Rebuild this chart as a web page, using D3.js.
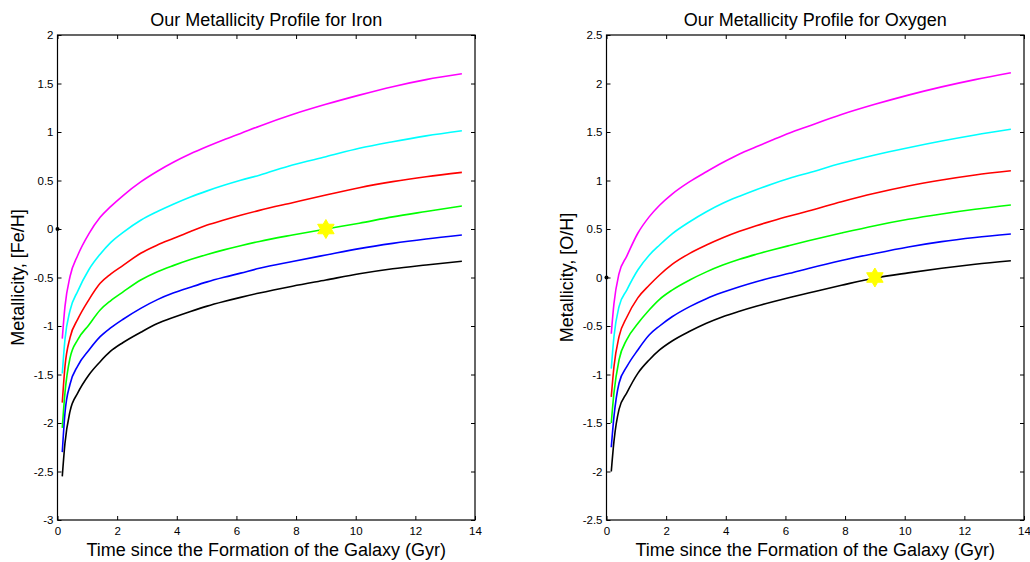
<!DOCTYPE html>
<html>
<head>
<meta charset="utf-8">
<script src="https://cdn.jsdelivr.net/npm/d3@7"></script>
<style>
  html, body { margin: 0; padding: 0; background: #fff; }
  svg { display: block; }
  text { font-family: "Liberation Sans", Arial, Helvetica, sans-serif; fill: #000; }
</style>
</head>
<body>
<svg id="chart" width="1030" height="562"></svg>
<script>
// ---------------- DATA ----------------
const timeGyr = [0.16, 0.25, 0.42, 0.68, 1.05, 1.43, 1.78, 2.2, 2.79, 3.35, 3.9, 4.46, 5.02, 5.58, 6.14, 6.77, 7.88, 9.0, 10.12, 11.24, 12.36, 13.56];

// Iron panel, [Fe/H]
const fe_magenta = [-1.13, -0.80, -0.49, -0.27, -0.05, 0.12, 0.23, 0.345, 0.485, 0.595, 0.69, 0.775, 0.85, 0.92, 0.985, 1.06, 1.18, 1.285, 1.38, 1.467, 1.54, 1.60];
const fe_cyan    = [-1.49, -1.14, -0.84, -0.64, -0.42, -0.26, -0.14, -0.035, 0.09, 0.18, 0.258, 0.33, 0.393, 0.45, 0.502, 0.555, 0.66, 0.745, 0.832, 0.90, 0.96, 1.013];
const fe_red     = [-1.79, -1.42, -1.12, -0.93, -0.73, -0.56, -0.465, -0.375, -0.25, -0.165, -0.096, -0.025, 0.041, 0.093, 0.142, 0.192, 0.271, 0.35, 0.426, 0.488, 0.539, 0.584];
const fe_green   = [-2.05, -1.69, -1.33, -1.14, -0.99, -0.835, -0.74, -0.648, -0.526, -0.44, -0.375, -0.315, -0.262, -0.215, -0.172, -0.128, -0.062, 0.0, 0.06, 0.125, 0.18, 0.237];
const fe_blue    = [-2.30, -1.90, -1.60, -1.41, -1.25, -1.11, -1.02, -0.93, -0.818, -0.728, -0.658, -0.6, -0.545, -0.498, -0.455, -0.405, -0.335, -0.268, -0.202, -0.148, -0.103, -0.062];
const fe_black   = [-2.55, -2.21, -1.88, -1.69, -1.505, -1.368, -1.26, -1.17, -1.065, -0.975, -0.91, -0.85, -0.795, -0.748, -0.705, -0.66, -0.59, -0.526, -0.462, -0.41, -0.371, -0.333];

// Oxygen panel, [O/H]
const o_magenta = [-0.58, -0.27, 0.04, 0.22, 0.456, 0.625, 0.745, 0.86, 0.988, 1.09, 1.185, 1.273, 1.347, 1.42, 1.49, 1.56, 1.68, 1.785, 1.88, 1.965, 2.04, 2.111];
const o_cyan    = [-0.94, -0.61, -0.30, -0.13, 0.077, 0.23, 0.335, 0.45, 0.575, 0.678, 0.765, 0.838, 0.905, 0.967, 1.023, 1.078, 1.177, 1.263, 1.338, 1.407, 1.469, 1.528];
const o_red     = [-1.23, -0.92, -0.61, -0.41, -0.21, -0.08, 0.026, 0.135, 0.249, 0.335, 0.41, 0.477, 0.534, 0.586, 0.634, 0.685, 0.781, 0.868, 0.943, 1.005, 1.057, 1.10];
const o_green   = [-1.50, -1.19, -0.85, -0.64, -0.475, -0.335, -0.225, -0.13, -0.026, 0.058, 0.128, 0.188, 0.239, 0.286, 0.33, 0.378, 0.458, 0.534, 0.60, 0.655, 0.703, 0.747];
const o_blue    = [-1.75, -1.435, -1.09, -0.92, -0.747, -0.593, -0.50, -0.405, -0.30, -0.218, -0.153, -0.095, -0.043, 0.002, 0.043, 0.093, 0.175, 0.248, 0.315, 0.37, 0.412, 0.448];
const o_black   = [-2.0, -1.69, -1.36, -1.19, -0.988, -0.85, -0.747, -0.655, -0.555, -0.472, -0.404, -0.348, -0.297, -0.25, -0.206, -0.16, -0.08, -0.005, 0.048, 0.095, 0.136, 0.173];

// Sun markers (time, metallicity)
const fe_sun = [9, 0];
const o_sun  = [9, 0];
const origin = [0, 0];

// Tick labels
const xTicks  = [0, 2, 4, 6, 8, 10, 12, 14];
const feTicks = [2, 1.5, 1, 0.5, 0, -0.5, -1, -1.5, -2, -2.5, -3];
const oTicks  = [2.5, 2, 1.5, 1, 0.5, 0, -0.5, -1, -1.5, -2, -2.5];

const titles = ["Our Metallicity Profile for Iron", "Our Metallicity Profile for Oxygen"];
const yLabels = ["Metallicity, [Fe/H]", "Metallicity, [O/H]"];
const xLabel = "Time since the Formation of the Galaxy (Gyr)";

// ---------------- STYLE ----------------
const lineColors = ["#ff00ff", "#00ffff", "#ff0000", "#00ff00", "#0000ff", "#000000"];

const svg = d3.select("#chart");

function hexagramPath(R) {
  const p = d3.path();
  for (let k = 0; k < 12; k++) {
    const a = (-90 + k * 30) * Math.PI / 180;
    const r = k % 2 === 0 ? R : R / Math.sqrt(3);
    const px = r * Math.cos(a), py = r * Math.sin(a);
    if (k === 0) p.moveTo(px, py); else p.lineTo(px, py);
  }
  p.closePath();
  return p.toString();
}

function drawPanel(cfg) {
  const x = d3.scaleLinear().domain([0, 14]).range([cfg.left, cfg.right]);
  const y = d3.scaleLinear().domain(cfg.yDomain).range([cfg.bottom, cfg.top]);
  const g = svg.append("g");

  // series
  const line = d3.line()
    .x((d, i) => x(timeGyr[i]))
    .y(d => y(d))
    .curve(d3.curveMonotoneX);
  cfg.series.forEach((s, i) => {
    g.append("path")
      .attr("d", line(s))
      .attr("fill", "none")
      .attr("stroke", lineColors[i])
      .attr("stroke-width", 1.6)
      .attr("stroke-linejoin", "round");
  });

  // axes with inward ticks
  const fmt = d => String(d);
  const ax = [
    g.append("g").attr("transform", `translate(0,${cfg.bottom})`)
      .call(d3.axisBottom(x).tickValues(xTicks).tickFormat(fmt).tickSizeInner(-4).tickSizeOuter(0).tickPadding(7)),
    g.append("g").attr("transform", `translate(0,${cfg.top})`)
      .call(d3.axisTop(x).tickValues(xTicks).tickFormat("").tickSizeInner(-4).tickSizeOuter(0)),
    g.append("g").attr("transform", `translate(${cfg.left},0)`)
      .call(d3.axisLeft(y).tickValues(cfg.yTicks).tickFormat(fmt).tickSizeInner(-4).tickSizeOuter(0).tickPadding(4)),
    g.append("g").attr("transform", `translate(${cfg.right},0)`)
      .call(d3.axisRight(y).tickValues(cfg.yTicks).tickFormat("").tickSizeInner(-4).tickSizeOuter(0))
  ];
  ax.forEach(a => {
    a.select(".domain").remove();
    a.selectAll("line").attr("stroke", "#000").attr("stroke-width", 1);
    a.selectAll("text").attr("font-size", "11.5px").attr("font-family", "Liberation Sans, Arial, sans-serif").attr("fill", "#000");
  });

  // box
  g.append("rect")
    .attr("x", cfg.left).attr("y", cfg.top)
    .attr("width", cfg.right - cfg.left).attr("height", cfg.bottom - cfg.top)
    .attr("fill", "none").attr("stroke", "#000").attr("stroke-width", 1.2);

  // origin dot
  g.append("circle")
    .attr("cx", x(origin[0])).attr("cy", y(origin[1])).attr("r", 2)
    .attr("fill", "#000");

  // sun marker
  g.append("path")
    .attr("d", hexagramPath(9.5))
    .attr("transform", `translate(${x(cfg.sun[0])},${y(cfg.sun[1])})`)
    .attr("fill", "#ffff00").attr("stroke", "#ffff00").attr("stroke-width", 1);

  // title
  g.append("text")
    .attr("x", (cfg.left + cfg.right) / 2).attr("y", 25.5)
    .attr("text-anchor", "middle").attr("font-size", "18px")
    .text(cfg.title);

  // x label
  g.append("text")
    .attr("x", (cfg.left + cfg.right) / 2).attr("y", 556)
    .attr("text-anchor", "middle").attr("font-size", "18px")
    .text(xLabel);

  // y label
  g.append("text")
    .attr("transform", `translate(${cfg.yLabelX},${(cfg.top + cfg.bottom) / 2}) rotate(-90)`)
    .attr("text-anchor", "middle").attr("font-size", "18px")
    .text(cfg.yLabel);
}

drawPanel({
  left: 57.5, right: 475, top: 35, bottom: 520,
  yDomain: [-3, 2], yTicks: feTicks,
  series: [fe_magenta, fe_cyan, fe_red, fe_green, fe_blue, fe_black],
  sun: fe_sun, title: titles[0], yLabel: yLabels[0], yLabelX: 24
});

drawPanel({
  left: 606.5, right: 1024, top: 35, bottom: 520,
  yDomain: [-2.5, 2.5], yTicks: oTicks,
  series: [o_magenta, o_cyan, o_red, o_green, o_blue, o_black],
  sun: o_sun, title: titles[1], yLabel: yLabels[1], yLabelX: 573
});
</script>
</body>
</html>
